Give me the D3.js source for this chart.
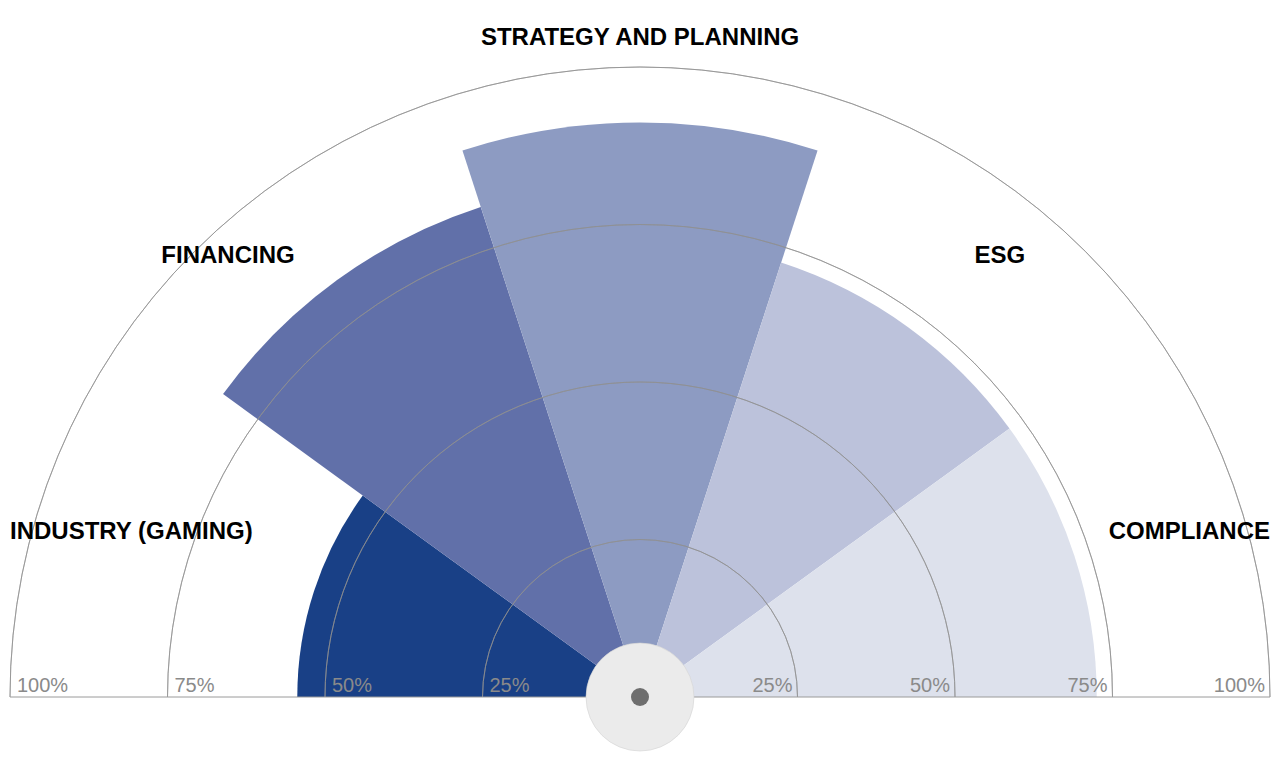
<!DOCTYPE html>
<html>
<head>
<meta charset="utf-8">
<script src="https://cdn.jsdelivr.net/npm/d3@7"></script>
<style>
  body { margin: 0; background: #fff; }
  svg { display: block; }
  .cat { font-family: "Liberation Sans", Arial, sans-serif; font-weight: 700; font-size: 24px; fill: #000; }
  .tick { font-family: "Liberation Sans", Arial, sans-serif; font-size: 20px; fill: #8a8a8a; }
</style>
</head>
<body>
<svg id="chart" width="1280" height="760"></svg>
<script>
// categories run left to right across the half circle
var categories = ["INDUSTRY (GAMING)", "FINANCING", "STRATEGY AND PLANNING", "ESG", "COMPLIANCE"];
var values = [54.4, 81.8, 91.2, 72.5, 72.5];
var colors = ["#194086", "#6170a9", "#8d9bc2", "#bcc2db", "#dde1ec"];
var ringTicks = [25, 50, 75, 100];

var svg = d3.select("#chart"),
  cx = 640,
  cy = 697,
  R = 630;

var r = d3.scaleLinear().domain([0, 100]).range([0, R]);
var slice = Math.PI / categories.length;

var g = svg.append("g")
  .attr("transform", "translate(" + cx + ", " + cy + ")");

var arc = d3.arc()
  .innerRadius(0)
  .outerRadius(function(d) { return r(d.value); })
  .startAngle(function(d) { return -Math.PI / 2 + d.i * slice; })
  .endAngle(function(d) { return -Math.PI / 2 + (d.i + 1) * slice; });

var data = values.map(function(v, i) { return { value: v, i: i, name: categories[i] }; });

g.selectAll(".sector")
  .data(data)
  .enter()
  .append("path")
    .attr("class", "sector")
    .attr("d", arc)
    .attr("fill", function(d, i) { return colors[i]; });

// grid rings, drawn over the sectors
var ring = d3.arc()
  .innerRadius(function(d) { return r(d); })
  .outerRadius(function(d) { return r(d); })
  .startAngle(-Math.PI / 2)
  .endAngle(Math.PI / 2);

g.selectAll(".ring")
  .data(ringTicks)
  .enter()
  .append("path")
    .attr("class", "ring")
    .attr("d", ring)
    .attr("fill", "none")
    .attr("stroke", "#8f8f8f")
    .attr("stroke-opacity", 0.8)
    .attr("stroke-width", 0.9);

// baseline
g.append("line")
  .attr("x1", -r(100)).attr("x2", r(100))
  .attr("y1", 0).attr("y2", 0)
  .attr("stroke", "#9a9a9a")
  .attr("stroke-width", 1);

// percent labels on both sides of the base
g.selectAll(".tickL")
  .data(ringTicks)
  .enter()
  .append("text")
    .attr("class", "tick")
    .attr("x", function(d) { return -r(d) + 7; })
    .attr("y", -5)
    .text(function(d) { return d + "%"; });

g.selectAll(".tickR")
  .data(ringTicks)
  .enter()
  .append("text")
    .attr("class", "tick")
    .attr("text-anchor", "end")
    .attr("x", function(d) { return r(d) - 5; })
    .attr("y", -5)
    .text(function(d) { return d + "%"; });

// center hub
g.append("circle")
  .attr("r", 54)
  .attr("fill", "#ebebeb")
  .attr("stroke", "#d4d4d4")
  .attr("stroke-width", 0.6);
g.append("circle")
  .attr("r", 9)
  .attr("fill", "#6e6e6e");

// category labels: anchor and offset from center (in units of R)
var labelLayout = [
  { anchor: "start", dx: -1, dy: -0.251 },
  { anchor: "middle", dx: -0.654, dy: -0.689 },
  { anchor: "middle", dx: 0, dy: -1.035 },
  { anchor: "middle", dx: 0.571, dy: -0.689 },
  { anchor: "end", dx: 1, dy: -0.251 }
];

g.selectAll(".cat")
  .data(data)
  .enter()
  .append("text")
    .attr("class", "cat")
    .attr("text-anchor", function(d, i) { return labelLayout[i].anchor; })
    .attr("x", function(d, i) { return labelLayout[i].dx * R; })
    .attr("y", function(d, i) { return labelLayout[i].dy * R; })
    .text(function(d) { return d.name; });
</script>
</body>
</html>
